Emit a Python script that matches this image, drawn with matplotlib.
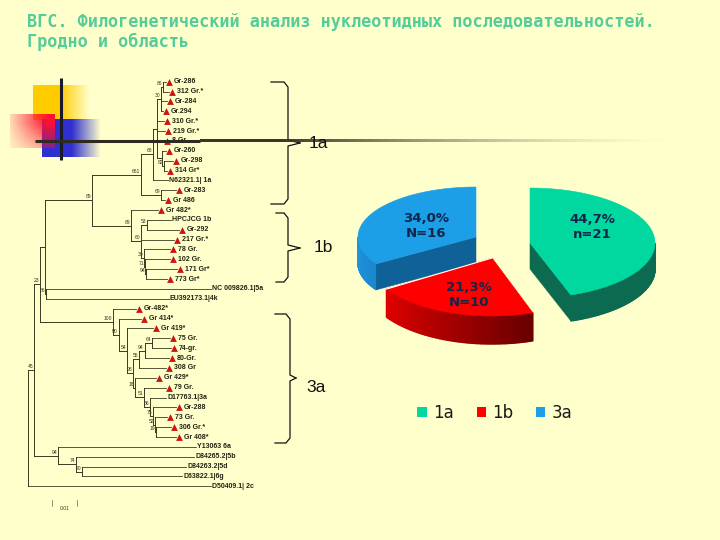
import numpy as np
import matplotlib
matplotlib.use("Agg")
import matplotlib.pyplot as plt
from matplotlib.patches import Polygon, Patch

BG = "#FFFFCC"

title_lines = ["ВГС. Филогенетический анализ нуклеотидных последовательностей.", "Гродно и область"]

# pie
genotypes = ["1a", "1b", "3a"]
shares = [44.7, 21.3, 34.0]
counts = ["n=21", "N=10", "N=16"]
top_colors = ["#00D8A0", "#FF0000", "#1C9FE6"]
arc_colors = [("#0C6A50", "#0C6A50"), ("#680000", "#E00000"), ("#1A86CC", "#1F95DE")]
cut_colors = ["#0C6A50", None, "#0F6298"]
pie_centers = [(530, 243), (492, 258), (476, 237)]
pie_radii = [(125, 55), (125, 58), (118, 50)]
pie_depth = [26, 28, 26]
pie_text = [(592, 227), (469, 295), (426, 226)]

# tree leaves, top to bottom
leaf_names = ["Gr-286", "312 Gr.*", "Gr-284", "Gr.294", "310 Gr.*", "219 Gr.*", "8 Gr", "Gr-260", "Gr-298",
              "314 Gr*", "N62321.1| 1a", "Gr-283", "Gr 486", "Gr 482*", "HPCJCG 1b", "Gr-292", "217 Gr.*",
              "78 Gr.", "102 Gr.", "171 Gr*", "773 Gr*", "NC 009826.1|5a", "EU392173.1|4k", "Gr-482*",
              "Gr 414*", "Gr 419*", "75 Gr.", "74-gr.", "80-Gr.", "308 Gr", "Gr 429*", "79 Gr.",
              "D17763.1|3a", "Gr-288", "73 Gr.", "306 Gr.*", "Gr 408*", "Y13063 6a", "D84265.2|5b",
              "D84263.2|5d", "D63822.1|6g", "D50409.1| 2c"]
leaf_x = [169, 172, 170, 166, 167, 168, 167, 169, 176, 170, 169, 179, 168, 161, 172, 182, 177, 173, 173, 180, 170,
          212, 170, 139, 144, 156, 173, 174, 172, 169, 159, 169, 167, 179, 170, 174, 179, 197, 195, 187, 183, 212]
plain_leaves = [10, 14, 21, 22, 32, 37, 38, 39, 40, 41]
row_top = 81.7
row_step = 9.87

# tree: (x, support, children), an int child is a leaf index
clade_1a = (141, "661", [
    (153, "68", [
        (157, "", [
            (161, "30", [(163, "86", [0, 1]), 2, 3]),
            4, 5, 6,
            (162, "", [7, (164, "82", [8, 9])]),
        ]),
        10,
    ]),
    (161, "69", [11, 12]),
])
clade_1b = (131, "69", [
    13,
    (141, "60", [
        (147, "53", [14, 15]),
        16,
        (144, "30", [17, (145, "71", [18, (146, "94", [19, 20])])]),
    ]),
])
clade_3a = (113, "100", [
    23,
    (119, "90", [
        24,
        (127, "54", [
            25,
            (133, "98", [
                (139, "55", [(145, "94", [(152, "64", [26, 27]), 28]), 29]),
                (135, "18", [30, (144, "51", [31, (150, "56", [32, (153, "75", [33, (155, "52", [34, (156, "19", [35, 36])])])])])]),
            ]),
        ]),
    ]),
])
clade_6 = (58, "94", [37, (76, "74", [38, (82, "70", [39, 40])])])
tree = (28, "", [
    (34, "45", [
        (40, "23", [
            (45, "", [(92, "89", [clade_1a, clade_1b]), (46, "86", [21, 22])]),
            clade_3a,
        ]),
        clade_6,
    ]),
    41,
])

# braces: x of arms, x of spine, x of tip, y top, y tip, y bottom
braces = [(271, 288, 300, 82, 143, 204), (276, 288, 300, 213, 248, 282), (275, 290, 296, 314, 378, 443)]
brace_labels = [("1a", 309, 144), ("1b", 314, 248), ("3a", 306, 387)]


def gradient_box(ax, color, box, solid_until, fade="right"):
    x0, x1, y0, y1 = box
    xs = np.linspace(x0, x1, 120)
    ys = np.linspace(y0, y1, 60)
    xx, yy = np.meshgrid(xs, ys)
    rgb = matplotlib.colors.to_rgb(color)
    img = np.ones((60, 120, 4))
    img[..., :3] = rgb
    if fade == "right":
        img[..., 3] = np.clip((x1 - xx) / (x1 - solid_until), 0, 1)
    else:
        # red box: strongest in the top right corner
        img[..., 3] = np.clip(0.15 + (xx - x0) / (x1 - x0), 0, 1) * np.clip(1.2 - (yy - y0) / (y1 - y0) * 0.8, 0, 1)
    ax.imshow(img, extent=(x0, x1, y1, y0), aspect="auto", zorder=1, interpolation="bilinear")


def draw_clade(ax, node, parent_x, marks):
    if isinstance(node, int):
        y = row_top + node * row_step
        end = leaf_x[node] - 1 if node in plain_leaves else leaf_x[node] - 3
        ax.plot([parent_x, end], [y, y], color="#3A3A20", lw=0.6, zorder=2)
        marks.append(node)
        return y
    x, support, children = node
    ys = [draw_clade(ax, c, x, marks) for c in children]
    y = (ys[0] + ys[-1]) / 2
    ax.plot([x, x], [ys[0], ys[-1]], color="#3A3A20", lw=0.7, zorder=2)
    if parent_x is not None:
        ax.plot([parent_x, x], [y, y], color="#3A3A20", lw=0.7, zorder=2)
    if support:
        ax.text(x - 1, y - 1, support, fontsize=3.6, ha="right", va="bottom", color="#333322",
                family="Liberation Sans", zorder=3)
    return y


def arc_points(center, radii, a0, a1, n=80):
    t = np.radians(np.linspace(a0, a1, n))
    return center[0] + radii[0] * np.sin(t), center[1] - radii[1] * np.cos(t)


def draw_slice(ax, i, a0, a1):
    c, r, d = pie_centers[i], pie_radii[i], pie_depth[i]
    # outer rim, only the front half of the ellipse shows
    lo, hi = max(a0, 90), min(a1, 270)
    if hi > lo:
        xs, ys = arc_points(c, r, lo, hi)
        c0 = np.array(matplotlib.colors.to_rgb(arc_colors[i][0]))
        c1 = np.array(matplotlib.colors.to_rgb(arc_colors[i][1]))
        for k in range(len(xs) - 1):
            col = c0 + (c1 - c0) * k / (len(xs) - 2)
            ax.add_patch(Polygon([(xs[k], ys[k]), (xs[k + 1], ys[k + 1]), (xs[k + 1], ys[k + 1] + d), (xs[k], ys[k] + d)],
                                 closed=True, fc=col, ec=col, lw=1.0, zorder=4))
    # cut face
    if cut_colors[i]:
        a = a1 if i == 0 else a0
        ex, ey = arc_points(c, r, a, a, 1)
        ax.add_patch(Polygon([c, (ex[0], ey[0]), (ex[0], ey[0] + d), (c[0], c[1] + d)], closed=True,
                             fc=cut_colors[i], ec=cut_colors[i], lw=0.4, zorder=4))
    xs, ys = arc_points(c, r, a0, a1)
    ax.add_patch(Polygon([c] + list(zip(xs, ys)), closed=True, fc=top_colors[i], ec=top_colors[i], lw=0.4, zorder=5))


fig = plt.figure(figsize=(7.2, 5.4), dpi=100, facecolor=BG)
ax = fig.add_axes([0, 0, 1, 1])
ax.set_facecolor(BG)
ax.axis("off")

# corner decoration
gradient_box(ax, "#FFCC00", (33, 90, 85, 120), 60)
gradient_box(ax, "#3030D0", (42, 101, 119, 157), 72)
gradient_box(ax, "#FF1030", (10, 55, 114, 148), 55, fade="both")
ax.plot([61, 61], [78, 160], color="#1A1A2A", lw=2.2, zorder=6, solid_capstyle="butt")
rule_x = np.linspace(200, 680, 300)
rule = np.ones((1, 300, 4))
rule[..., :3] = matplotlib.colors.to_rgb("#3A362A")
rule[..., 3] = np.clip((680 - rule_x) / 400, 0, 1) ** 1.6
ax.plot([35, 200], [141, 141], color="#2E2A20", lw=2.2, zorder=6, solid_capstyle="butt")
ax.imshow(rule, extent=(200, 680, 142.5, 139.5), aspect="auto", zorder=6)

# title
for line, y in zip(title_lines, [22, 42]):
    ax.text(27, y, line, fontsize=12.2, family="DejaVu Sans Mono", fontweight="bold", color="#55CC99",
            ha="left", va="center", zorder=7)

# tree
marks = []
draw_clade(ax, tree, None, marks)
for i, name in enumerate(leaf_names):
    y = row_top + i * row_step
    tx = leaf_x[i] if i in plain_leaves else leaf_x[i] + 5
    ax.text(tx, y, name, fontsize=5, family="Liberation Sans", fontweight="bold", color="#222211",
            ha="left", va="center", zorder=3)
marked = [i for i in range(len(leaf_names)) if i not in plain_leaves]
ax.scatter([leaf_x[i] for i in marked], [row_top + i * row_step for i in marked], marker="^", s=24,
           color="#CC1414", linewidths=0, zorder=4)

# scale bar
ax.plot([52, 52], [500, 506], color="#666650", lw=0.5)
ax.plot([77, 77], [500, 506], color="#666650", lw=0.5)
ax.text(64.5, 508, "0.01", fontsize=3.6, ha="center", va="center", color="#333322", family="Liberation Sans")

# braces
for arm, spine, tip, top, mid, bottom in braces:
    ax.plot([arm, spine - 4, spine, spine, tip], [top, top, top + 5, mid - 3, mid], color="#111111", lw=0.9, zorder=5)
    ax.plot([tip, spine, spine, spine - 4, arm], [mid, mid + 3, bottom - 5, bottom, bottom], color="#111111", lw=0.9, zorder=5)
for label, x, y in brace_labels:
    ax.text(x, y, label, fontsize=12.5, family="Liberation Sans", color="#111111", ha="left", va="center", zorder=7)

# exploded 3d pie
edges = np.cumsum([0] + shares) / sum(shares) * 360
for i in [2, 0, 1]:
    draw_slice(ax, i, edges[i], edges[i + 1])
ex, ey = arc_points(pie_centers[1], pie_radii[1], edges[2], edges[2], 1)
ax.plot([pie_centers[1][0], ex[0]], [pie_centers[1][1], ey[0]], color="white", lw=0.8, zorder=6)
for i in range(3):
    ax.text(pie_text[i][0], pie_text[i][1], f"{shares[i]:.1f}%".replace(".", ",") + "\n" + counts[i], fontsize=9.5,
            fontweight="bold", color="#10264A", ha="center", va="center", linespacing=1.25, zorder=8)

handles = [Patch(fc=top_colors[i], ec="none", label=genotypes[i]) for i in range(3)]
ax.legend(handles=handles, ncol=3, frameon=False, loc="center", bbox_to_anchor=(495, 413),
          bbox_transform=ax.transData, fontsize=12, handlelength=0.55, handleheight=0.55, handletextpad=0.4,
          columnspacing=1.35, labelcolor="#1A1A1A")

ax.set_xlim(0, 720)
ax.set_ylim(540, 0)
fig.savefig("out.png", dpi=100, facecolor=BG)
